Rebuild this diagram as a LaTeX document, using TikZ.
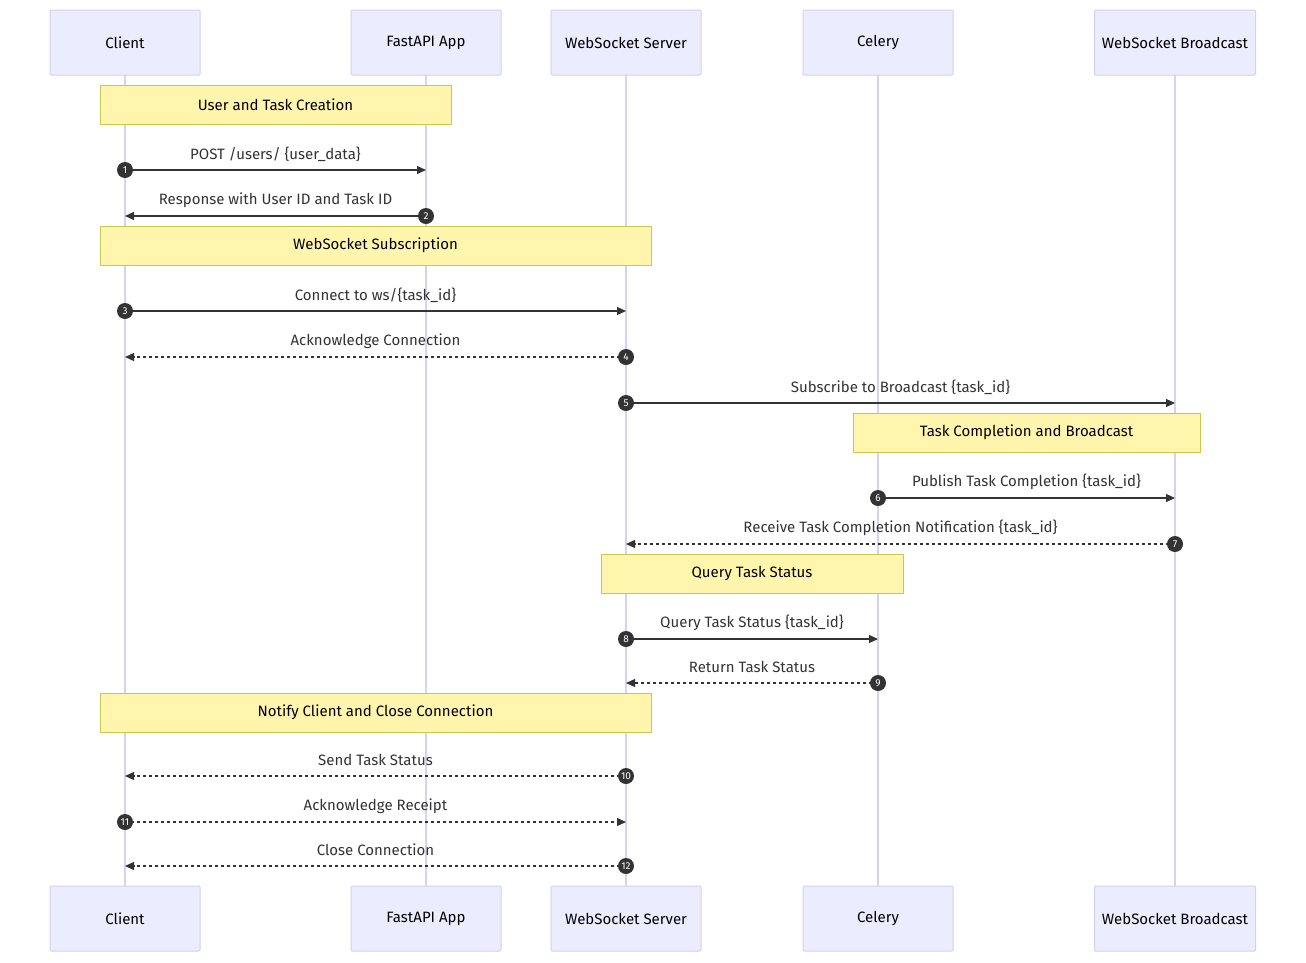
\documentclass[tikz,border=0pt]{standalone}
\usepackage{fontspec}
\setmainfont{Fira Sans}
\usetikzlibrary{arrows.meta}
\definecolor{actfill}{HTML}{ECECFF}
\definecolor{actline}{HTML}{D3D0F0}
\definecolor{life}{HTML}{D8D2F2}
\definecolor{notefill}{HTML}{FFF5AD}
\definecolor{noteline}{HTML}{C8C850}
\definecolor{ink}{HTML}{333333}
\begin{document}
\begin{tikzpicture}[x=1pt,y=-1pt,font=\fontsize{15}{18}\selectfont,
  actor/.style={draw=actline,fill=actfill,line width=1pt,rounded corners=1pt,minimum height=65,inner sep=0pt,text=black},
  note/.style={draw=noteline,fill=notefill,line width=1pt,minimum height=39,inner sep=0pt,text=black},
  lifeline/.style={draw=life,line width=1.5pt},
  msg/.style={draw=ink,line width=1.1pt,-{Triangle[length=9,width=8]}},
  dmsg/.style={msg,dash pattern=on 3pt off 3pt},
  num/.style={circle,fill=ink,text=white,inner sep=0pt,minimum size=16,font=\fontsize{10}{10}\selectfont},
  lbl/.style={text=ink,inner sep=0pt}]
\useasboundingbox (0,0) rectangle (1306,962);
% lifelines
\foreach \n/\x in {c/125,f/426,w/626,k/878,b/1175}{
  \draw[lifeline] (\x,75) -- (\x,886);
}
% actors
\foreach \n/\x/\w/\t in {c/125/150/Client,f/426/150/FastAPI App,w/626/150/WebSocket Server,k/878/150/Celery,b/1175/161/WebSocket Broadcast}{
  \node[actor,minimum width=\w] (\n top) at (\x,42.5) {\t};
  \node[actor,minimum width=\w] (\n bot) at (\x,918.5) {\t};
}
% notes
\node[note,minimum width=351] (n1) at (275.5,104.5) {User and Task Creation};
\node[note,minimum width=551] (n2) at (375.5,245.5) {WebSocket Subscription};
\node[note,minimum width=347] (n3) at (1026.5,432.5) {Task Completion and Broadcast};
\node[note,minimum width=302] (n4) at (752,573.5) {Query Task Status};
\node[note,minimum width=551] (n5) at (375.5,712.5) {Notify Client and Close Connection};
% messages
\foreach \i/\y/\a/\b/\s/\t in {
  1/170/125/426/msg/{POST /users/ \{user\_data\}},
  2/216/426/125/msg/{Response with User ID and Task ID},
  3/311/125/626/msg/{Connect to ws/\{task\_id\}},
  4/357/626/125/dmsg/{Acknowledge Connection},
  5/403/626/1175/msg/{Subscribe to Broadcast \{task\_id\}},
  6/498/878/1175/msg/{Publish Task Completion \{task\_id\}},
  7/544/1175/626/dmsg/{Receive Task Completion Notification \{task\_id\}},
  8/639/626/878/msg/{Query Task Status \{task\_id\}},
  9/683/878/626/dmsg/{Return Task Status},
  10/776/626/125/dmsg/{Send Task Status},
  11/822/125/626/dmsg/{Acknowledge Receipt},
  12/866/626/125/dmsg/{Close Connection}}{
  \coordinate (m\i s) at (\a,\y);
  \coordinate (m\i e) at (\b,\y);
  \draw[\s] (m\i s) -- (m\i e);
  \node[num] (c\i) at (m\i s) {\i};
  \node[lbl] (l\i) at ({(\a+\b)/2},\y-16) {\t};
}
\end{tikzpicture}
\end{document}
